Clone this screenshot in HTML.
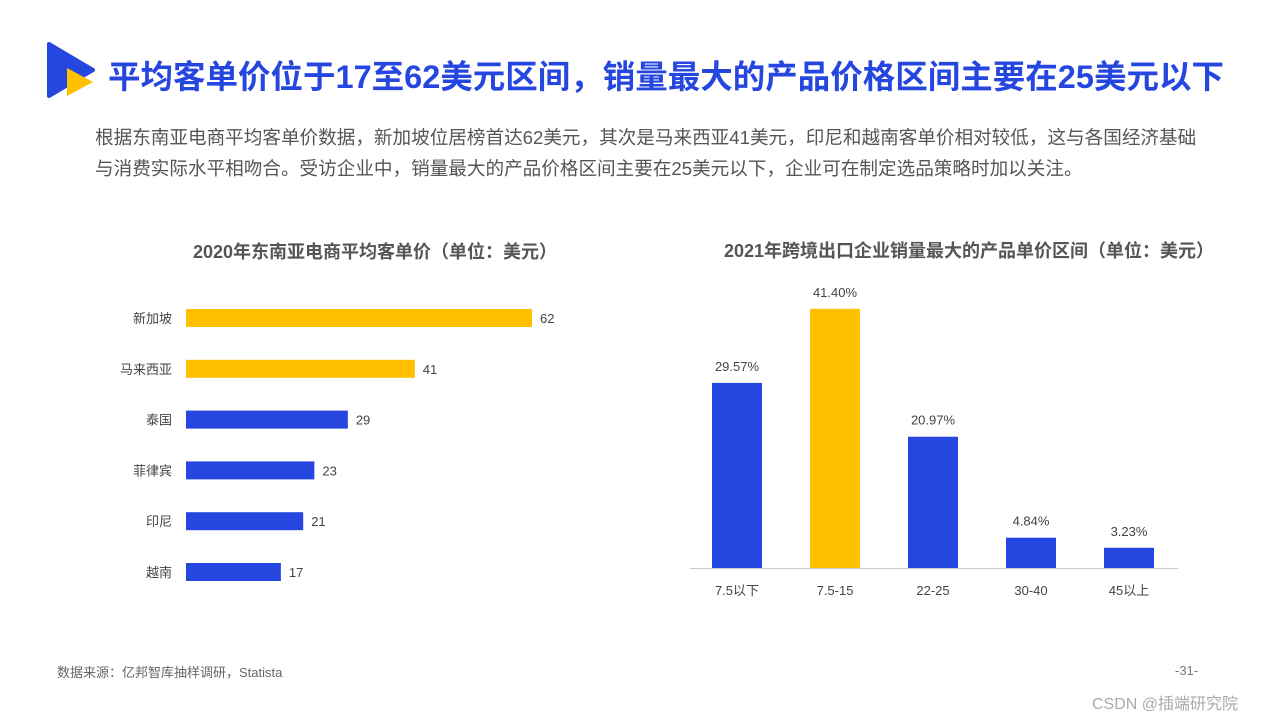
<!DOCTYPE html>
<html><head><meta charset="utf-8"><style>
body{margin:0;width:1280px;height:720px;background:#fff;position:relative;overflow:hidden;font-family:"Liberation Sans","Noto Sans CJK SC",sans-serif}
.a{position:absolute;white-space:nowrap}
</style></head><body>
<svg class="a" style="left:45px;top:42px" width="52" height="56">
<path d="M4 2 L48 28 L4 54 Z" fill="#2646e0" stroke="#2646e0" stroke-width="4" stroke-linejoin="round"/>
<path d="M22 26 L48 40 L22 54 Z" fill="#ffc000"/>
</svg>
<div class="a" style="left:108px;top:51px;font-size:32.5px;font-weight:bold;color:#2646e0">平均客单价位于17至62美元区间，销量最大的产品价格区间主要在25美元以下</div>
<div class="a" style="left:95px;top:122px;font-size:18.6px;color:#555;line-height:31px">根据东南亚电商平均客单价数据，新加坡位居榜首达62美元，其次是马来西亚41美元，印尼和越南客单价相对较低，这与各国经济基础<br>与消费实际水平相吻合。受访企业中，销量最大的产品价格区间主要在25美元以下，企业可在制定选品策略时加以关注。</div>
<div class="a" style="left:57px;top:662px;font-size:13px;color:#666">数据来源：亿邦智库抽样调研，Statista</div>
<div class="a" style="left:1175px;top:663px;font-size:13px;color:#777">-31-</div>
<div class="a" style="left:1092px;top:690px;font-size:16px;color:#aaa">CSDN @插端研究院</div>
<svg class="a" id="c1" style="left:0;top:0" width="640" height="720"></svg>
<svg class="a" id="c2" style="left:640px;top:0" width="640" height="720"></svg>
<script>
const countries=["新加坡","马来西亚","泰国","菲律宾","印尼","越南"];
const avgValues=[62,41,29,23,21,17];
const ranges=["7.5以下","7.5-15","22-25","30-40","45以上"];
const shares=[29.57,41.40,20.97,4.84,3.23];
const NS="http://www.w3.org/2000/svg";
function mk(p,t,at,txt){const e=document.createElementNS(NS,t);for(const k in at)e.setAttribute(k,at[k]);if(txt!==undefined)e.textContent=txt;p.appendChild(e);return e;}
const F='"Liberation Sans","Noto Sans CJK SC",sans-serif';
const c1=document.getElementById('c1');
let t=mk(c1,'text',{x:375,y:258,'text-anchor':'middle','font-size':18,'font-weight':'bold',fill:'#555','font-family':F},'2020年东南亚电商平均客单价（单位：美元）');


const x1=v=>186+v*346/62, y1=i=>318+i*50.8;
countries.forEach((c,i)=>{
 let r=mk(c1,'rect',{x:186,y:y1(i)-9,width:x1(avgValues[i])-186,height:18,fill:i<2?'#ffc000':'#2646e0'});
 
 
 let l=mk(c1,'text',{x:172,y:y1(i)+5,'text-anchor':'end','font-size':13,fill:'#444','font-family':F},c);
 
 
 let v=mk(c1,'text',{x:x1(avgValues[i])+8,y:y1(i)+5,'font-size':13,fill:'#444','font-family':F},avgValues[i]);
 
 
});
const c2=document.getElementById('c2');
t=mk(c2,'text',{x:329,y:257,'text-anchor':'middle','font-size':18,'font-weight':'bold',fill:'#555','font-family':F},'2021年跨境出口企业销量最大的产品单价区间（单位：美元）');


const base=568, yv=v=>base-v*6.26, xc=i=>97+i*98;
let ax=mk(c2,'line',{x1:50,x2:538,y1:base+0.5,y2:base+0.5,stroke:'#ccc'});


ranges.forEach((c,i)=>{
 let r=mk(c2,'rect',{x:xc(i)-25,y:yv(shares[i]),width:50,height:base-yv(shares[i]),fill:i==1?'#ffc000':'#2646e0'});
 
 
 let l=mk(c2,'text',{x:xc(i),y:base+27,'text-anchor':'middle','font-size':13,fill:'#444','font-family':F},c);
 
 
 let v=mk(c2,'text',{x:xc(i),y:yv(shares[i])-12,'text-anchor':'middle','font-size':13,fill:'#444','font-family':F},shares[i].toFixed(2)+'%');
 
 
});
</script>
</body></html>
